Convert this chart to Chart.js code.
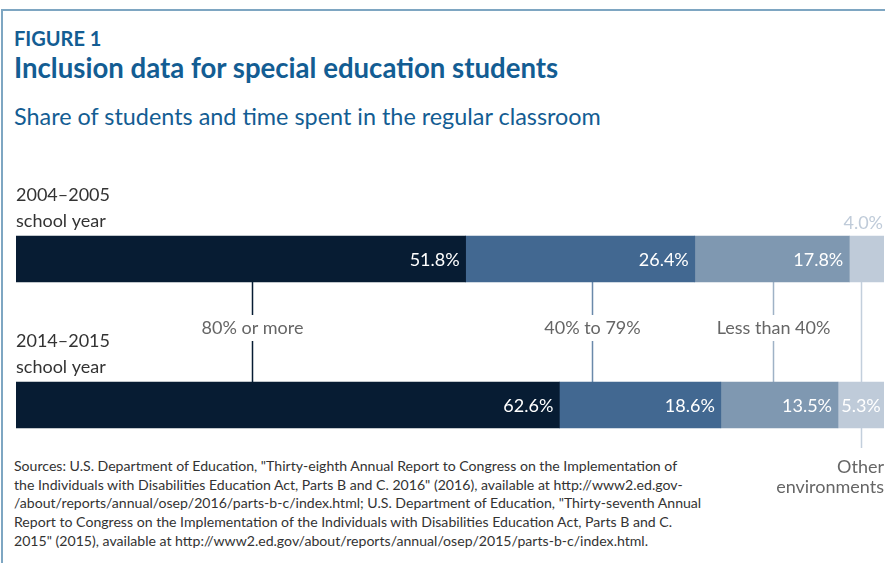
<!DOCTYPE html>
<html>
<head>
<meta charset="utf-8">
<script src="https://cdn.jsdelivr.net/npm/chart.js@4.4.0/dist/chart.umd.min.js"></script>
<style>
    body { margin: 0; background: #fff; }
    #wrap { position: relative; width: 885px; height: 563px; overflow: hidden; font-family: Lato, sans-serif; }
    #frame { position: absolute; left: 1px; top: 9px; right: -2px; bottom: -2px; border-left: 2px solid #7ea6c2; border-top: 2px solid #7ea6c2; }
    .t { position: absolute; left: 14px; white-space: pre; line-height: 1; color: #135d93; }
    #fig { top: 28px; font-size: 20px; font-weight: bold; }
    #title { top: 54px; font-size: 27.6px; font-weight: bold; }
    #sub { top: 105px; font-size: 23.4px; }
    #src { top: 457px; font-size: 14.1px; line-height: 18.7px; color: #333; }
    canvas { position: absolute; left: 0; top: 0; }
</style>
</head>
<body>
<div id="wrap">
    <div id="frame"></div>
    <div class="t" id="fig">FIGURE 1</div>
    <div class="t" id="title">Inclusion data for special education students</div>
    <div class="t" id="sub">Share of students and time spent in the regular classroom</div>
    <div class="t" id="src">Sources: U.S. Department of Education, "Thirty-eighth Annual Report to Congress on the Implementation of
the Individuals with Disabilities Education Act, Parts B and C. 2016" (2016), available at http://www2.ed.gov-
/about/reports/annual/osep/2016/parts-b-c/index.html; U.S. Department of Education, "Thirty-seventh Annual
Report to Congress on the Implementation of the Individuals with Disabilities Education Act, Parts B and C.
2015" (2015), available at http://www2.ed.gov/about/reports/annual/osep/2015/parts-b-c/index.html.</div>
    <canvas id="chart" width="885" height="563"></canvas>
</div>
<script>
// data
const schoolYears = ['2004–2005', '2014–2015'];
const settings = ['80% or more', '40% to 79%', 'Less than 40%', 'Other environments'];
const share80OrMore = [51.8, 62.6];
const share40To79 = [26.4, 18.6];
const shareLessThan40 = [17.8, 13.5];
const shareOther = [4.0, 5.3];

const colors = ['#071c33', '#426891', '#7f98b1', '#bfcbd9'];
const lineColors = ['#071c33', '#6a89aa', '#9fb2c6', '#c3cfdc'];
// where each callout line sits, in % along the bar
const calloutAt = [27.2, 66.4, 87.2, 97.35];

const labelsPlugin = {
    id: 'labels',
    beforeDatasetsDraw(chart) {
        const ctx = chart.ctx;
        const x = chart.scales.x;
        const top = chart.getDatasetMeta(0).data[0];
        const bot = chart.getDatasetMeta(0).data[1];
        const y1 = top.y + top.height / 2;
        const y2 = bot.y - bot.height / 2;
        const mid = (y1 + y2) / 2 - 4;

        ctx.save();
        ctx.lineWidth = 1.5;
        ctx.font = '18px Lato';
        ctx.textBaseline = 'middle';
        for (let i = 0; i < 3; i++) {
            const px = Math.round(x.getPixelForValue(calloutAt[i])) + 0.5;
            ctx.strokeStyle = lineColors[i];
            ctx.beginPath();
            ctx.moveTo(px, y1);
            ctx.lineTo(px, mid - 13);
            ctx.moveTo(px, mid + 13);
            ctx.lineTo(px, y2);
            ctx.stroke();
            ctx.fillStyle = '#666';
            ctx.textAlign = 'center';
            ctx.fillText(settings[i], px, mid);
        }
        // other environments
        const px = Math.round(x.getPixelForValue(calloutAt[3])) + 0.5;
        ctx.strokeStyle = lineColors[3];
        ctx.beginPath();
        ctx.moveTo(px, y1);
        ctx.lineTo(px, y2 + bot.height + 20);
        ctx.stroke();
        ctx.fillStyle = '#666';
        ctx.textAlign = 'right';
        const words = settings[3].split(' ');
        ctx.fillText(words[0], chart.chartArea.right, y2 + bot.height + 39);
        ctx.fillText(words[1], chart.chartArea.right, y2 + bot.height + 59);

        // year labels above bars
        ctx.fillStyle = '#333';
        ctx.textAlign = 'left';
        [top, bot].forEach((el, i) => {
            const by = el.y - el.height / 2;
            ctx.fillText(schoolYears[i], chart.chartArea.left, by - 41);
            ctx.fillText('school year', chart.chartArea.left, by - 15);
        });
        ctx.restore();
    },
    afterDatasetsDraw(chart) {
        const ctx = chart.ctx;
        ctx.save();
        ctx.font = '18px Lato';
        ctx.textBaseline = 'middle';
        ctx.textAlign = 'right';
        chart.data.datasets.forEach((ds, d) => {
            chart.getDatasetMeta(d).data.forEach((el, i) => {
                const txt = ds.data[i].toFixed(1) + '%';
                const tw = ctx.measureText(txt).width;
                const w = el.x - el.base;
                if (w < tw + 4) {
                    ctx.fillStyle = colors[d];
                    ctx.fillText(txt, chart.chartArea.right - 1, el.y - el.height / 2 - 13);
                } else {
                    const pad = Math.min(6, (w - tw) / 2);
                    ctx.fillStyle = '#fff';
                    ctx.fillText(txt, el.x - pad, el.y + 1);
                }
            });
        });
        ctx.restore();
    }
};

new Chart(document.getElementById('chart'), {
    type: 'bar',
    data: {
        labels: schoolYears,
        datasets: [share80OrMore, share40To79, shareLessThan40, shareOther].map((vals, i) => ({
            label: settings[i],
            data: vals,
            backgroundColor: colors[i],
            borderWidth: 0,
            barThickness: 46,
        }))
    },
    options: {
        indexAxis: 'y',
        responsive: false,
        animation: false,
        layout: { padding: { left: 16, right: 1, top: 186, bottom: 85 } },
        scales: {
            x: { stacked: true, min: 0, max: 100, display: false },
            y: { stacked: true, display: false }
        },
        plugins: {
            legend: { display: false },
            tooltip: { enabled: false }
        }
    },
    plugins: [labelsPlugin]
});
</script>
</body>
</html>
